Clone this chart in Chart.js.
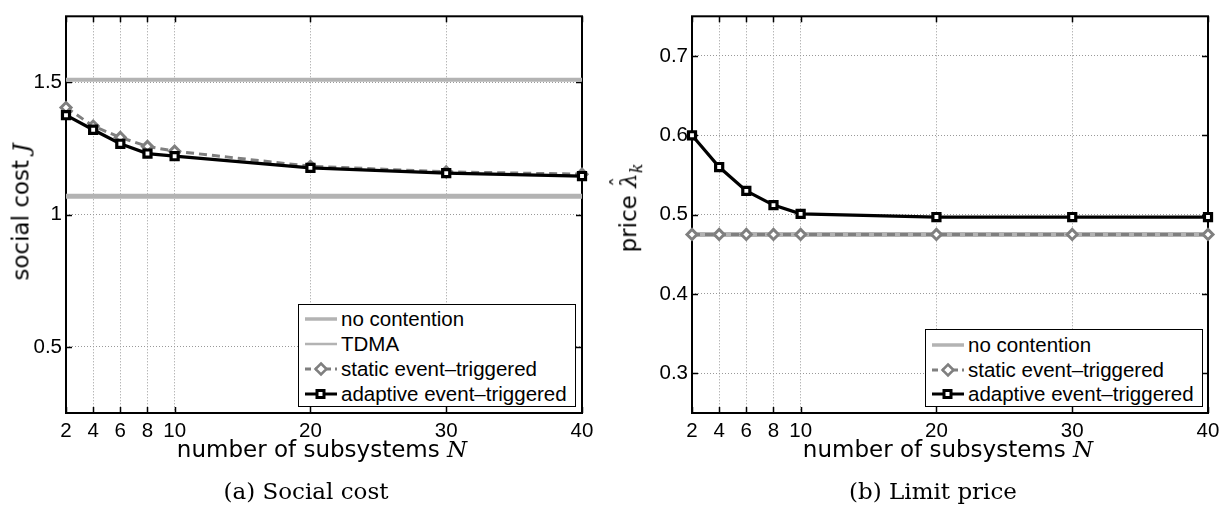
<!DOCTYPE html>
<html>
<head>
<meta charset="utf-8">
<script src="https://cdn.jsdelivr.net/npm/chart.js@4"></script>
<style>
  html, body { margin: 0; padding: 0; background: #fff; }
  body { width: 1231px; height: 512px; position: relative; overflow: hidden; }
  canvas.plot { position: absolute; top: 0; }
  .lbl { position: absolute; white-space: nowrap; transform: translate(-50%, -50%);
         font-family: 'DejaVu Sans', sans-serif; font-size: 23px; color: #000; line-height: 1; }
  .lbl.rot { transform: translate(-50%, -50%) rotate(-90deg); }
  .cap { font-family: 'DejaVu Serif', serif; font-size: 23px; }
  .math { font-family: 'DejaVu Serif', serif; font-style: italic; }
  .hat { position: relative; display: inline-block; }
  .hat .circ { position: absolute; left: 1px; top: -8px; font-style: normal; font-size: 20px; }
  .legend { position: absolute; background: #fff; border: 1.5px solid #000; box-sizing: border-box;
            font-family: 'Liberation Sans', Arial, sans-serif; font-size: 20.5px; color: #000; }
  .legend .row { position: absolute; left: 0; height: 24px; width: 100%; }
  .legend .row svg { position: absolute; left: 5px; top: 0; }
  .legend .row span { position: absolute; left: 42px; top: 50%; transform: translateY(-50%); white-space: nowrap; line-height: 1; }
</style>
</head>
<body>
<canvas id="costChart" class="plot" width="600" height="512" style="left:0px;width:600px;height:512px"></canvas>
<canvas id="priceChart" class="plot" width="600" height="512" style="left:626px;width:600px;height:512px"></canvas>

<div class="lbl rot" style="left:21px;top:212px">social cost <span class="math">J</span></div>
<div class="lbl" style="left:322px;top:449px">number of subsystems <span class="math">N</span></div>
<div class="lbl cap" style="left:306px;top:491px">(a) Social cost</div>

<div class="lbl rot" style="left:631px;top:208px">price <span class="math hat">λ<span class="circ">ˆ</span></span><sub class="math" style="font-size:16px">k</sub></div>
<div class="lbl" style="left:948px;top:449px">number of subsystems <span class="math">N</span></div>
<div class="lbl cap" style="left:933px;top:491px">(b) Limit price</div>

<div id="costLegend" class="legend" style="left:298px;top:304px;width:278px;height:103px"></div>
<div id="priceLegend" class="legend" style="left:925px;top:329px;width:278px;height:78px"></div>

<script>
// Number of subsystems on the horizontal axis
const subsystems = [2, 4, 6, 8, 10, 20, 30, 40];
const xTicks = [2, 4, 6, 8, 10, 20, 30, 40];
const xRange = [2, 40];

// (a) social cost J
const costStatic   = [1.405, 1.335, 1.292, 1.258, 1.240, 1.183, 1.162, 1.153];
const costAdaptive = [1.376, 1.321, 1.268, 1.231, 1.221, 1.177, 1.157, 1.146];
const costNoContention = [1.07, 1.07];
const costTDMA = [1.51, 1.51];
const costTicks = [0.5, 1, 1.5];

// (b) limit price
const priceStatic   = [0.475, 0.475, 0.475, 0.475, 0.475, 0.475, 0.475, 0.475];
const priceAdaptive = [0.600, 0.560, 0.530, 0.512, 0.501, 0.497, 0.497, 0.497];
const priceNoContention = [0.475, 0.475];
const priceTicks = [0.3, 0.4, 0.5, 0.6, 0.7];

const pts = (xs, ys) => xs.map((x, i) => ({ x: x, y: ys[i] }));

const styles = {
  noContention: { label: 'no contention', borderColor: '#b3b3b3', borderWidth: 5, pointRadius: 0, order: 3 },
  tdma: { label: 'TDMA', borderColor: '#b3b3b3', borderWidth: 4, pointRadius: 0, order: 2 },
  static: { label: 'static event\u2013triggered', borderColor: '#7f7f7f', borderWidth: 3, borderDash: [8, 5],
            pointStyle: 'rectRot', pointRadius: 5, pointBorderWidth: 3,
            pointBackgroundColor: '#fff', pointBorderColor: '#7f7f7f', order: 1 },
  adaptive: { label: 'adaptive event\u2013triggered', borderColor: '#000', borderWidth: 3.2,
              pointStyle: 'rect', pointRadius: 5, pointBorderWidth: 3.2,
              pointBackgroundColor: '#fff', pointBorderColor: '#000', order: 0 }
};

function series(key, data) {
  return Object.assign({ data: data, tension: 0, clip: false, fill: false }, styles[key]);
}

// Plot frame with inward tick marks, drawn beneath the data lines
const framePlugin = {
  id: 'frame',
  beforeDatasetsDraw(chart) {
    const { ctx, chartArea: a, scales } = chart;
    const L = 6;
    ctx.save();
    ctx.strokeStyle = '#000';
    ctx.lineWidth = 1.5;
    ctx.beginPath();
    scales.x.ticks.forEach(t => {
      const p = Math.round(scales.x.getPixelForValue(t.value)) + 0.5;
      ctx.moveTo(p, a.bottom); ctx.lineTo(p, a.bottom - L);
      ctx.moveTo(p, a.top); ctx.lineTo(p, a.top + L);
    });
    scales.y.ticks.forEach(t => {
      const p = Math.round(scales.y.getPixelForValue(t.value)) + 0.5;
      ctx.moveTo(a.left, p); ctx.lineTo(a.left + L, p);
      ctx.moveTo(a.right, p); ctx.lineTo(a.right - L, p);
    });
    ctx.stroke();
    ctx.lineWidth = 2;
    ctx.strokeRect(a.left, a.top, a.right - a.left, a.bottom - a.top);
    ctx.restore();
  }
};

const tickFont = { family: "'Liberation Sans', Arial, sans-serif", size: 20.5 };

function makeChart(id, datasets, yMin, yMax, yTicks) {
  return new Chart(document.getElementById(id), {
    type: 'line',
    data: { datasets: datasets },
    plugins: [framePlugin],
    options: {
      responsive: false,
      animation: false,
      events: [],
      layout: { autoPadding: false, padding: { left: 0, right: 18, top: 7, bottom: 69 } },
      plugins: { legend: { display: false }, tooltip: { enabled: false } },
      scales: {
        x: {
          type: 'linear', min: 2, max: 40,
          afterBuildTicks: ax => { ax.ticks = xTicks.map(v => ({ value: v })); },
          afterFit: ax => { ax.height = 30; },
          ticks: { color: '#000', font: tickFont, padding: 6, maxRotation: 0, autoSkip: false,
                   callback: v => String(v) },
          grid: { color: '#999999', lineWidth: 1, drawTicks: false },
          border: { display: false, dash: [1, 2] }
        },
        y: {
          type: 'linear', min: yMin, max: yMax,
          afterBuildTicks: ax => { ax.ticks = yTicks.map(v => ({ value: v })); },
          afterFit: ax => { ax.width = 66; },
          ticks: { color: '#000', font: tickFont, padding: 4, autoSkip: false,
                   callback: v => String(v) },
          grid: { color: '#999999', lineWidth: 1, drawTicks: false },
          border: { display: false, dash: [1, 2] }
        }
      }
    }
  });
}

makeChart('costChart', [
  series('adaptive', pts(subsystems, costAdaptive)),
  series('static', pts(subsystems, costStatic)),
  series('tdma', pts(xRange, costTDMA)),
  series('noContention', pts(xRange, costNoContention))
], 0.25, 1.75, costTicks);

makeChart('priceChart', [
  series('adaptive', pts(subsystems, priceAdaptive)),
  series('static', pts(subsystems, priceStatic)),
  series('noContention', pts(xRange, priceNoContention))
], 0.25, 0.75, priceTicks);

// Legend boxes placed inside the plot areas
function sampleSvg(s) {
  let svg = '<svg width="34" height="24" xmlns="http://www.w3.org/2000/svg">';
  const dash = s.borderDash ? ' stroke-dasharray="6,4"' : '';
  const w = s.pointRadius ? 3 : s.borderWidth - 1.5;
  svg += `<line x1="1" y1="12" x2="33" y2="12" stroke="${s.borderColor}" stroke-width="${w}"${dash}/>`;
  if (s.pointStyle === 'rectRot') {
    svg += `<polygon points="17,6.5 22.5,12 17,17.5 11.5,12" fill="#fff" stroke="${s.pointBorderColor}" stroke-width="2.5"/>`;
  } else if (s.pointStyle === 'rect') {
    svg += `<rect x="13" y="8.5" width="7" height="7" fill="#fff" stroke="${s.pointBorderColor}" stroke-width="3"/>`;
  }
  return svg + '</svg>';
}

function buildLegend(id, keys, firstRow, step) {
  const box = document.getElementById(id);
  keys.forEach((k, i) => {
    const s = styles[k];
    const row = document.createElement('div');
    row.className = 'row';
    row.style.top = (firstRow + i * step - 12) + 'px';
    row.innerHTML = sampleSvg(s) + '<span>' + s.label + '</span>';
    box.appendChild(row);
  });
}

buildLegend('costLegend', ['noContention', 'tdma', 'static', 'adaptive'], 14, 25);
buildLegend('priceLegend', ['noContention', 'static', 'adaptive'], 15, 24.5);
</script>
</body>
</html>
